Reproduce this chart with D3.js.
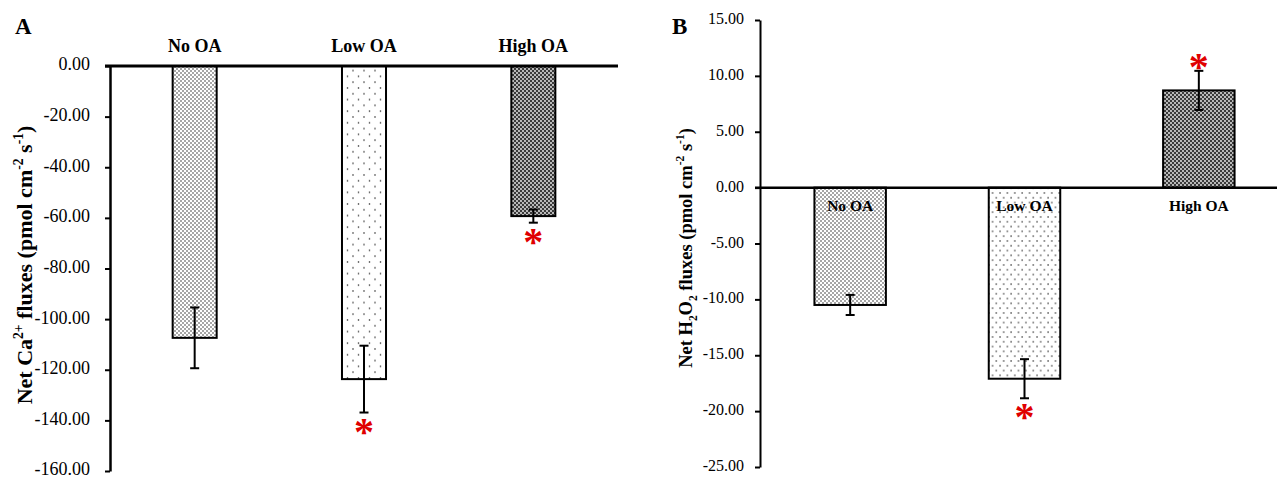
<!DOCTYPE html>
<html>
<head>
<meta charset="utf-8">
<script src="https://cdn.jsdelivr.net/npm/d3@7"></script>
<style>
    body { margin: 0; background: #fff; }
    svg { display: block; font-family: "Liberation Serif", "Times New Roman", serif; }
</style>
</head>
<body>
<div id="chart"></div>
<script>
// data
var categories = ["No OA", "Low OA", "High OA"];
var caMeans = [-107.4, -123.7, -59.3];
var caErrors = [12.0, 13.2, 2.6];
var h2o2Means = [-10.5, -17.1, 8.7];
var h2o2Errors = [0.9, 1.75, 1.75];
var significant = [false, true, true];
var caTicks = [0, -20, -40, -60, -80, -100, -120, -140, -160];
var h2o2Ticks = [15, 10, 5, 0, -5, -10, -15, -20, -25];
var patternIds = ["dense", "sparse", "hatch"];

var W = 1277, H = 479;
var svg = d3.select("#chart").append("svg").attr("width", W).attr("height", H);

addPatterns(svg);

drawPanel({
    letter: "A", letterX: 15, letterY: 34, letterSize: 23,
    means: caMeans, errors: caErrors, ticks: caTicks,
    yDomain: [-160, 0], yRange: [471, 66],
    xRange: [110, 618], axisX: 110, lineEnd: 618, barFrac: 0.26,
    axisWidth: 2.5, tickSize: 18, tickPad: 15,
    labelInside: false, labelY: 52, labelSize: 18,
    titleX: 32, titleY: 265, titleSize: 22,
    title: [["Net Ca", 0], ["2+", 1], [" fluxes (pmol cm", 0], ["-2", 1], [" s", 0], ["-1", 1], [")", 0]],
    patternSuffix: "A"
});

drawPanel({
    letter: "B", letterX: 672, letterY: 34, letterSize: 23,
    means: h2o2Means, errors: h2o2Errors, ticks: h2o2Ticks,
    yDomain: [-25, 15], yRange: [467, 20],
    xRange: [763, 1286], axisX: 760, lineEnd: 1277, barFrac: 0.41,
    axisWidth: 2, tickSize: 16, tickPad: 11,
    labelInside: true, labelY: 211, labelSize: 15.5,
    titleX: 692, titleY: 248, titleSize: 18.5,
    title: [["Net H", 0], ["2", -1], ["O", 0], ["2", -1], ["  fluxes (pmol cm", 0], ["-2", 1], [" s", 0], ["-1", 1], [")", 0]],
    patternSuffix: "B"
});

function addPatterns(svg) {
    var defs = svg.append("defs");
    // panel-specific spacing for the dot fills
    [["A", 11, 11.6], ["B", 7.4, 9.6]].forEach(function (p) {
        var sp = defs.append("pattern").attr("id", "sparse" + p[0])
            .attr("patternUnits", "userSpaceOnUse").attr("width", p[1]).attr("height", p[2]);
        sp.append("rect").attr("width", p[1]).attr("height", p[2]).attr("fill", "#fff");
        sp.append("circle").attr("cx", 1).attr("cy", 1).attr("r", 0.8).attr("fill", "#222");
        sp.append("circle").attr("cx", 1 + p[1] / 2).attr("cy", 1 + p[2] / 2).attr("r", 0.8).attr("fill", "#222");

        var dn = defs.append("pattern").attr("id", "dense" + p[0])
            .attr("patternUnits", "userSpaceOnUse").attr("width", 4).attr("height", 4);
        dn.append("rect").attr("width", 4).attr("height", 4).attr("fill", "#fff");
        dn.append("circle").attr("cx", 1).attr("cy", 1).attr("r", 0.75).attr("fill", "#222");
        dn.append("circle").attr("cx", 3).attr("cy", 3).attr("r", 0.75).attr("fill", "#222");

        var ht = defs.append("pattern").attr("id", "hatch" + p[0])
            .attr("patternUnits", "userSpaceOnUse").attr("width", 4).attr("height", 4);
        ht.append("rect").attr("width", 4).attr("height", 4).attr("fill", "#3a3a3a");
        ht.append("circle").attr("cx", 1).attr("cy", 1).attr("r", 0.9).attr("fill", "#f4f4f4");
        ht.append("circle").attr("cx", 3).attr("cy", 3).attr("r", 0.9).attr("fill", "#f4f4f4");
    });
}

function drawPanel(c) {
    var g = svg.append("g");
    var y = d3.scaleLinear().domain(c.yDomain).range(c.yRange);
    var x = d3.scaleBand().domain(categories).range(c.xRange).padding(0);
    var bw = x.bandwidth() * c.barFrac;
    var cx = function (d) { return x(d) + x.bandwidth() / 2; };

    // y axis
    var axis = d3.axisLeft(y).tickValues(c.ticks).tickSize(5).tickSizeOuter(0)
        .tickPadding(c.tickPad)
        .tickFormat(function (d) { return d.toFixed(2); });
    var ax = g.append("g").attr("transform", "translate(" + c.axisX + ",0)").call(axis);
    ax.select(".domain").attr("stroke", "#000").attr("stroke-width", c.axisWidth);
    ax.selectAll(".tick line").attr("stroke", "#000").attr("stroke-width", 2);
    ax.selectAll(".tick text").attr("fill", "#000").attr("dy", "0.22em")
        .style("font-family", "Liberation Serif").style("font-size", c.tickSize + "px");

    // bars
    var rows = categories.map(function (k, i) {
        return { cat: k, mean: c.means[i], err: c.errors[i], sig: significant[i], pat: patternIds[i] };
    });
    g.selectAll("rect.bar").data(rows).enter().append("rect")
        .attr("class", "bar")
        .attr("x", function (d) { return cx(d.cat) - bw / 2; })
        .attr("y", function (d) { return y(Math.max(0, d.mean)); })
        .attr("width", bw)
        .attr("height", function (d) { return Math.abs(y(d.mean) - y(0)); })
        .attr("fill", function (d) { return "url(#" + d.pat + c.patternSuffix + ")"; })
        .attr("stroke", "#000")
        .attr("stroke-width", 2);

    // zero line
    g.append("line")
        .attr("x1", c.axisX - 5).attr("x2", c.lineEnd)
        .attr("y1", y(0)).attr("y2", y(0))
        .attr("stroke", "#000").attr("stroke-width", c.axisWidth + 0.5);

    // error bars
    var eb = g.selectAll("g.err").data(rows).enter().append("g").attr("class", "err");
    eb.append("line")
        .attr("x1", function (d) { return cx(d.cat); })
        .attr("x2", function (d) { return cx(d.cat); })
        .attr("y1", function (d) { return y(d.mean + d.err); })
        .attr("y2", function (d) { return y(d.mean - d.err); })
        .attr("stroke", "#000").attr("stroke-width", 2);
    [1, -1].forEach(function (s) {
        eb.append("line")
            .attr("x1", function (d) { return cx(d.cat) - 4.5; })
            .attr("x2", function (d) { return cx(d.cat) + 4.5; })
            .attr("y1", function (d) { return y(d.mean + s * d.err); })
            .attr("y2", function (d) { return y(d.mean + s * d.err); })
            .attr("stroke", "#000").attr("stroke-width", 2);
    });

    // significance asterisks beyond the whisker
    g.selectAll("text.star").data(rows.filter(function (d) { return d.sig; })).enter()
        .append("text").attr("class", "star")
        .attr("x", function (d) { return cx(d.cat); })
        .attr("y", function (d) {
            var end = d.mean < 0 ? y(d.mean - d.err) + 11 : y(d.mean + d.err) - 12;
            return end + 21;
        })
        .attr("text-anchor", "middle")
        .attr("fill", "#e00000")
        .style("font-weight", "bold")
        .style("font-size", "40px")
        .text("*");

    // category labels
    g.selectAll("text.cat").data(rows).enter().append("text").attr("class", "cat")
        .attr("x", function (d) { return cx(d.cat); })
        .attr("y", c.labelY)
        .attr("text-anchor", "middle")
        .style("font-weight", "bold")
        .style("font-size", c.labelSize + "px")
        .text(function (d) { return d.cat; });

    // panel letter
    g.append("text").attr("x", c.letterX).attr("y", c.letterY)
        .style("font-weight", "bold").style("font-size", c.letterSize + "px")
        .text(c.letter);

    // y title with super/subscripts
    var t = g.append("text")
        .attr("transform", "translate(" + c.titleX + "," + c.titleY + ") rotate(-90)")
        .attr("text-anchor", "middle")
        .style("font-weight", "bold")
        .style("font-size", c.titleSize + "px");
    var shift = 0;
    c.title.forEach(function (part) {
        var off = part[1] === 1 ? -0.42 * c.titleSize : part[1] === -1 ? 0.25 * c.titleSize : 0;
        t.append("tspan")
            .attr("dy", off - shift)
            .style("font-size", part[1] === 0 ? null : (c.titleSize * 0.62) + "px")
            .text(part[0]);
        shift = off;
    });
}
</script>
</body>
</html>
